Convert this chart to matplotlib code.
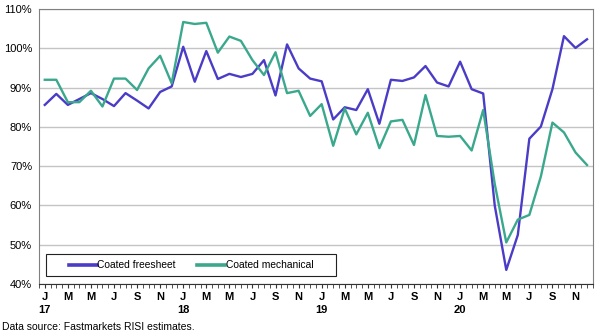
import matplotlib
matplotlib.use("Agg")
import matplotlib.pyplot as plt
from matplotlib.patches import Rectangle
import numpy as np

plt.rcParams['font.family'] = ['Liberation Sans', 'DejaVu Sans']

# monthly operating rates, Jan 2017 - Dec 2020 (%)
freesheet = [85.6, 88.4, 85.6, 87.1, 88.6, 87.1, 85.3, 88.6, 86.7, 84.7, 88.9, 90.3,
             100.4, 91.5, 99.3, 92.2, 93.5, 92.7, 93.5, 97.0, 88.0, 101.0, 94.9, 92.3,
             91.6, 81.9, 85.0, 84.3, 89.6, 80.8, 92.0, 91.7, 92.6, 95.5, 91.3, 90.3,
             96.6, 89.6, 88.5, 60.0, 43.6, 52.5, 77.0, 80.1, 89.6, 103.1, 100.1, 102.3]
mechanical = [92.0, 92.0, 86.3, 86.3, 89.2, 85.2, 92.3, 92.3, 89.4, 94.9, 98.1, 91.1,
              106.7, 106.2, 106.5, 98.9, 103.0, 101.9, 97.0, 93.2, 99.0, 88.6, 89.2, 82.8,
              85.8, 75.2, 84.7, 78.1, 83.6, 74.6, 81.4, 81.8, 75.4, 88.1, 77.7, 77.5,
              77.7, 74.0, 84.3, 65.5, 50.6, 56.4, 57.6, 67.4, 81.1, 78.6, 73.5, 70.3]
month_letters = ['J', 'M', 'M', 'J', 'S', 'N']
years = ['17', '18', '19', '20']

blue = '#4a3cc6'
green = '#3aa88d'

fig = plt.figure(figsize=(6, 3.35), dpi=100)
ax = fig.add_axes([0.065, 0.152, 0.923, 0.821])

x = np.arange(len(freesheet))
ax.plot(x, freesheet, color=blue, lw=1.7, label='Coated freesheet')
ax.plot(x, mechanical, color=green, lw=1.7, label='Coated mechanical')

ax.set_xlim(-0.5, 47.5)
ax.set_ylim(40, 110)
ax.set_yticks(range(40, 111, 10))
ax.set_yticklabels([f'{v}%' for v in range(40, 111, 10)], fontsize=8)
ax.yaxis.grid(True, color='#c4c4c4', lw=1)
ax.set_axisbelow(True)
ax.tick_params(axis='y', length=0, pad=5)

# month letters every second month, year under each January
xt = np.arange(0, 48, 2)
xl = []
for i in xt:
    lab = month_letters[(i % 12) // 2]
    if i % 12 == 0:
        lab += '\n' + years[i // 12]
    xl.append(lab)
ax.set_xticks(xt)
ax.set_xticklabels(xl, fontsize=8, fontweight='bold', linespacing=1.3, va='top')
ax.set_xticks(np.arange(-0.5, 48, 0.5), minor=True)
ax.tick_params(axis='x', which='both', length=3, direction='out', color='#333333', pad=3)

for side in ['top', 'right', 'left']:
    ax.spines[side].set_color('#808080')
    ax.spines[side].set_linewidth(0.8)
ax.spines['bottom'].set_color('#333333')

# legend box drawn separately, entries placed inside it
ax.add_patch(Rectangle((0.0126, 0.029), 0.523, 0.08, transform=ax.transAxes,
                       facecolor='white', edgecolor='#222222', lw=0.8, zorder=3))
leg = ax.legend(loc='center left', bbox_to_anchor=(0.054, 0.069), ncol=2, fontsize=7.4,
                frameon=False, handlelength=2.7, handletextpad=0.05, borderpad=0,
                borderaxespad=0, columnspacing=2.1)
leg.set_zorder(4)
for line in leg.get_lines():
    line.set_linewidth(2.6)

fig.text(0.004, 1 - 327 / 335, 'Data source: Fastmarkets RISI estimates.', fontsize=7.5, va='center')

fig.savefig('out.png', dpi=100)
